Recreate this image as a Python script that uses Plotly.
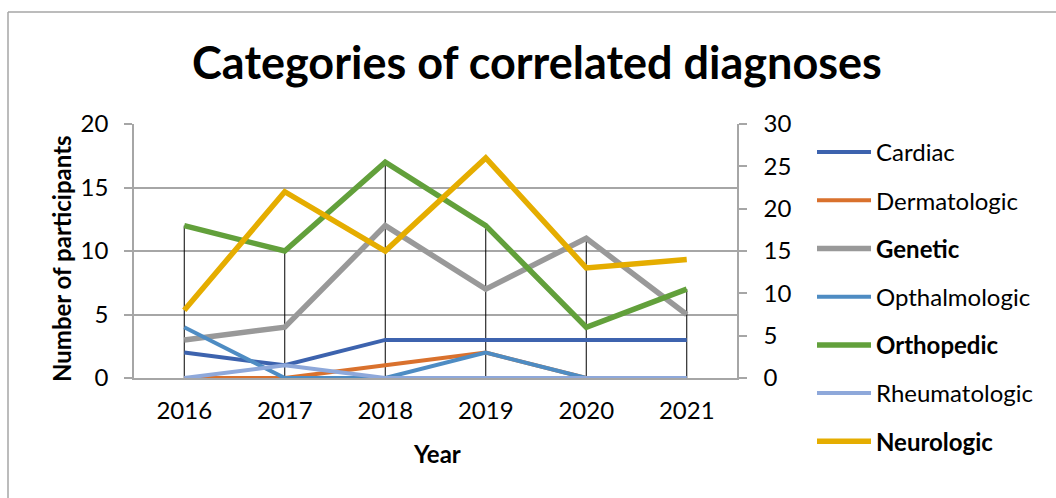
import plotly.graph_objects as go

years = ["2016", "2017", "2018", "2019", "2020", "2021"]
cardiac = [2, 1, 3, 3, 3, 3]
dermatologic = [0, 0, 1, 2, 0, 0]
genetic = [3, 4, 12, 7, 11, 5]
opthalmologic = [4, 0, 0, 2, 0, 0]
orthopedic = [12, 10, 17, 12, 4, 7]
rheumatologic = [0, 1, 0, 0, 0, 0]
neurologic = [8, 22, 15, 26, 13, 14]  # right axis

primary = [
    ("Cardiac", cardiac, "#3D63AE", 4, False),
    ("Dermatologic", dermatologic, "#D9712D", 4, False),
    ("Genetic", genetic, "#999999", 5.5, True),
    ("Opthalmologic", opthalmologic, "#4E8CC3", 4, False),
    ("Orthopedic", orthopedic, "#62A03B", 5.5, True),
    ("Rheumatologic", rheumatologic, "#8EA8DA", 4, False),
]

FONT = "Lato"
FS = 24
fig = go.Figure()

# high-low lines across primary series
hx, hy = [], []
for i, yr in enumerate(years):
    vals = [s[1][i] for s in primary]
    hx += [yr, yr, None]
    hy += [max(vals), min(vals), None]
fig.add_trace(go.Scatter(x=hx, y=hy, mode="lines", line=dict(color="#000000", width=1),
                         showlegend=False, hoverinfo="skip"))

for name, vals, color, w, bold in primary:
    fig.add_trace(go.Scatter(x=years, y=vals, mode="lines",
                             name=("<b>" + name + "</b>") if bold else name,
                             legendgroup=name,
                             line=dict(color=color, width=w)))

fig.add_trace(go.Scatter(x=years, y=neurologic, mode="lines", name="<b>Neurologic</b>",
                         legendgroup="Neurologic",
                         line=dict(color="#E5AD00", width=5.5), yaxis="y2"))

L, R, T, B = 134, 737, 124, 378
W, H = 1056, 498
pw, ph = R - L, B - T

def px(x):
    return (x - L) / pw

def py(y):
    return (B - y) / ph

fig.update_layout(
    width=W, height=H,
    margin=dict(l=L, r=W - R, t=T, b=H - B),
    paper_bgcolor="white", plot_bgcolor="white",
    font=dict(family=FONT, size=FS, color="#000000"),
    title=dict(text="<b>Categories of correlated diagnoses</b>", x=px(537), xref="paper",
               xanchor="center", y=1 - 63 / H, yanchor="middle",
               font=dict(family=FONT, size=45, color="#000000")),
    xaxis=dict(type="category", range=[-0.5, 5.5], showgrid=False, showline=True,
               linecolor="#A6A6A6", linewidth=1.5, ticks="", tickfont=dict(size=FS),
               ticklabelstandoff=10, zeroline=False, fixedrange=True),
    yaxis=dict(range=[0, 20], dtick=5, showgrid=True, gridcolor="#A6A6A6", gridwidth=1.5,
               showline=True, linecolor="#A6A6A6", linewidth=1.5, ticks="outside",
               ticklen=8, tickcolor="#A6A6A6", tickwidth=1.5, zeroline=False,
               ticklabelstandoff=11, tickfont=dict(size=FS)),
    yaxis2=dict(range=[0, 30], dtick=5, overlaying="y", side="right", showgrid=False,
                showline=True, linecolor="#A6A6A6", linewidth=1.5, ticks="outside",
                ticklen=8, tickcolor="#A6A6A6", tickwidth=1.5, zeroline=False,
                ticklabelstandoff=12, tickfont=dict(size=FS)),
    legend=dict(x=px(812), y=py(130), xanchor="left", yanchor="top",
                tracegroupgap=14, font=dict(size=FS), itemwidth=54,
                bgcolor="rgba(0,0,0,0)", maxheight=500),
    showlegend=True,
)

fig.add_annotation(text="<b>Year</b>", x=px(437), y=py(453), xref="paper", yref="paper",
                   showarrow=False, font=dict(size=FS), xanchor="center", yanchor="middle")
fig.add_annotation(text="<b>Number of participants</b>", x=px(61), y=py(259), xref="paper",
                   yref="paper", showarrow=False, textangle=-90, font=dict(size=FS),
                   xanchor="center", yanchor="middle")

# outer chart border (top and left edges visible)
fig.add_shape(type="line", xref="paper", yref="paper", x0=px(8), x1=px(1060), y0=py(12), y1=py(12),
              line=dict(color="#A6A6A6", width=1.5))
fig.add_shape(type="line", xref="paper", yref="paper", x0=px(8), x1=px(8), y0=py(12), y1=py(505),
              line=dict(color="#A6A6A6", width=1.5))

fig.write_html("out.html", config={"displayModeBar": False},
               post_script="document.body.style.margin='0px';")
